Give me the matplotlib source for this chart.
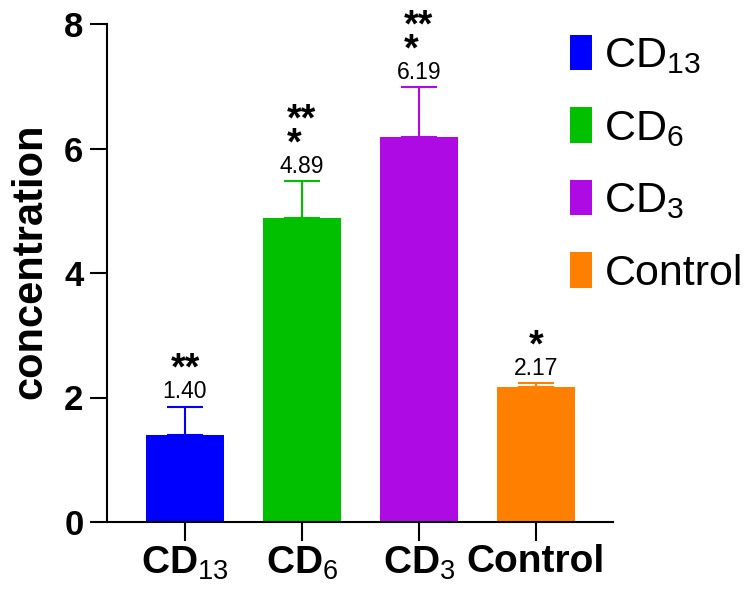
import matplotlib
matplotlib.use("Agg")
import matplotlib.pyplot as plt
import numpy as np

plt.rcParams['font.family'] = ['Liberation Sans', 'DejaVu Sans']
plt.rcParams['mathtext.fontset'] = 'custom'
plt.rcParams['mathtext.rm'] = 'Liberation Sans'
plt.rcParams['mathtext.it'] = 'Liberation Sans:italic'
plt.rcParams['mathtext.bf'] = 'Liberation Sans:bold'

# Данные
groups = ["CD$_{13}$", "CD$_{6}$", "CD$_{3}$", "Control"]
means = [1.40, 4.89, 6.19, 2.17]
errors = [0.45, 0.58, 0.79, 0.06]
stars = ["**", "***", "***", "*"]
colors = ["#0000FF", "#00C000", "#AE0AE3", "#FF8000"]

fig = plt.figure(figsize=(7.48, 5.91), dpi=100)
ax = fig.add_axes([107 / 748, 1 - 522 / 591, 506 / 748, 498 / 591])

x = np.arange(len(groups))
bars = ax.bar(x, means, width=0.667, color=colors, label=groups, zorder=2)

# Планки погрешностей только вверх
for i in range(len(x)):
    ax.errorbar(x[i], means[i], yerr=[[0], [errors[i]]], color=colors[i],
                capsize=13.3, capthick=1.5, elinewidth=1.5, zorder=1)

# Подписи значений и звёздочки
for i in range(len(x)):
    top = means[i] + errors[i]
    ax.annotate(f"{means[i]:.2f}", (x[i], top), xytext=(0, 15),
                textcoords='offset pixels', ha='center', va='center',
                fontsize=16.5)
    chunks = [stars[i][k:k + 2] for k in range(0, len(stars[i]), 2)]
    ax.annotate("\n".join(chunks), (x[i], top), xytext=(0, 27),
                textcoords='offset pixels', ha='center', va='baseline',
                multialignment='left', fontsize=27, fontweight='bold',
                linespacing=0.58, annotation_clip=False)

ax.set_xlim(-0.667, 3.66)
ax.set_ylim(0, 8)
ax.set_yticks([0, 2, 4, 6, 8])
ax.set_xticks(x)
ax.set_xticklabels(groups, fontsize=28, fontweight='bold')
for lab in ax.get_yticklabels():
    lab.set_fontsize(25)
    lab.set_fontweight('bold')

ax.spines['top'].set_visible(False)
ax.spines['right'].set_visible(False)
ax.spines['left'].set_linewidth(1.5)
ax.spines['bottom'].set_linewidth(1.5)
ax.tick_params(axis='y', length=12, width=1.5, pad=5)
ax.tick_params(axis='x', length=14, width=1.5, pad=2)

ax.set_ylabel("concentration", fontsize=30, fontweight='bold')
ax.yaxis.set_label_coords(-0.112, 0.524)

ax.legend(loc='upper left', bbox_to_anchor=(570 / 748, 1 - 35 / 591),
          bbox_transform=fig.transFigure, frameon=False, fontsize=31,
          handlelength=0.52, handleheight=0.88, handletextpad=0.28,
          labelspacing=0.72, borderpad=0, borderaxespad=0)

fig.savefig("out.png", dpi=100)
